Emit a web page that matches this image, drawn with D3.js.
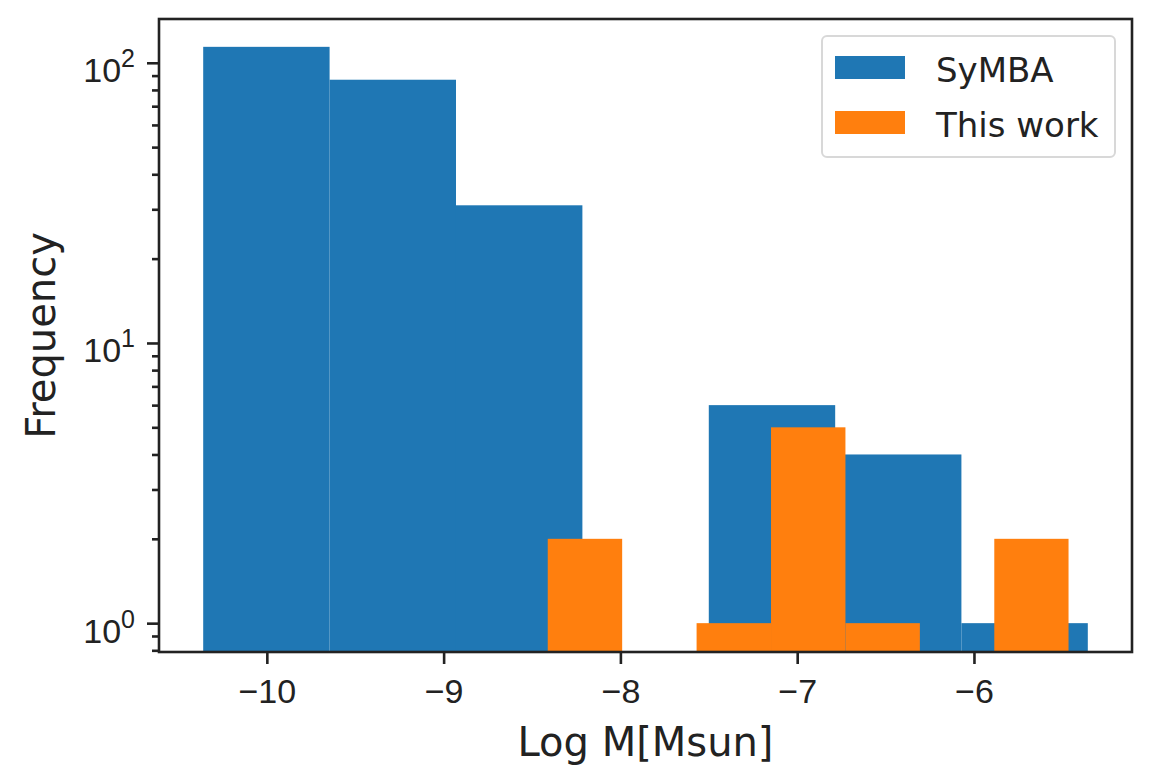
<!DOCTYPE html>
<html>
<head>
<meta charset="utf-8">
<script src="https://cdn.jsdelivr.net/npm/d3@7"></script>
<style>
    body { margin: 0; background: #fff; }
    svg { display: block; font-family: "DejaVu Sans", sans-serif; }
    .axis path { display: none; }
    .axis line { stroke: #222; stroke-width: 2.6; }
    .axis text { fill: #222; font-size: 34px; }
</style>
</head>
<body>
<svg id="chart"></svg>
<script>
// histogram bin edges (Log M) and counts
const binEdgesSymba = [-10.360, -9.645, -8.930, -8.215, -7.500, -6.785, -6.071, -5.356];
const countsSymba = [114, 87, 31, 0, 6, 4, 1];
const binEdgesThisWork = [-8.411, -7.990, -7.569, -7.148, -6.727, -6.306, -5.885, -5.465];
const countsThisWork = [2, 0, 1, 5, 1, 0, 2];

const seriesNames = ['SyMBA', 'This work'];
const seriesColors = ['#1f77b4', '#ff7f0e'];

const xTicks = [-10, -9, -8, -7, -6];
const yMajorTicks = [1, 10, 100];
const yExponents = ['0', '1', '2'];

class LogHistogram {

    constructor(_config, _data) {
        this.config = {
            parentElement: _config.parentElement,
            containerWidth: _config.containerWidth || 1153,
            containerHeight: _config.containerHeight || 782,
            margin: _config.margin || { top: 19, right: 21, bottom: 130, left: 159 }
        }
        this.data = _data;
        this.initVis();
    }

    initVis() {
        let vis = this;

        vis.width = vis.config.containerWidth - vis.config.margin.left - vis.config.margin.right;
        vis.height = vis.config.containerHeight - vis.config.margin.top - vis.config.margin.bottom;

        vis.xScale = d3.scaleLinear()
            .domain([-10.610, -5.106])
            .range([0, vis.width]);

        vis.yScale = d3.scaleLog()
            .domain([0.789, 143.3])
            .range([vis.height, 0]);

        vis.xAxis = d3.axisBottom(vis.xScale)
            .tickValues(xTicks)
            .tickSize(12)
            .tickSizeOuter(0)
            .tickPadding(15)
            .tickFormat(d3.format('d'));

        // minor ticks from the log scale itself, majors drawn separately
        vis.yMinorAxis = d3.axisLeft(vis.yScale)
            .tickValues(vis.yScale.ticks().filter(d => !yMajorTicks.includes(d)))
            .tickSize(7)
            .tickSizeOuter(0)
            .tickFormat('');

        vis.yAxis = d3.axisLeft(vis.yScale)
            .tickValues(yMajorTicks)
            .tickSize(12)
            .tickSizeOuter(0)
            .tickPadding(12)
            .tickFormat('');

        vis.svg = d3.select(vis.config.parentElement)
            .attr('width', vis.config.containerWidth)
            .attr('height', vis.config.containerHeight);

        vis.chart = vis.svg.append('g')
            .attr('transform', `translate(${vis.config.margin.left},${vis.config.margin.top})`);

        vis.chart.append('clipPath')
            .attr('id', 'plot-clip')
            .append('rect')
            .attr('width', vis.width)
            .attr('height', vis.height);

        vis.marks = vis.chart.append('g')
            .attr('clip-path', 'url(#plot-clip)');

        vis.xAxisG = vis.chart.append('g')
            .attr('class', 'axis x-axis')
            .attr('transform', `translate(0,${vis.height})`);

        vis.yMinorAxisG = vis.chart.append('g')
            .attr('class', 'axis y-axis-minor');

        vis.yAxisG = vis.chart.append('g')
            .attr('class', 'axis y-axis');

        // spines
        vis.chart.append('rect')
            .attr('width', vis.width)
            .attr('height', vis.height)
            .attr('fill', 'none')
            .attr('stroke', '#222')
            .attr('stroke-width', 2.6);

        vis.svg.append('text')
            .attr('text-anchor', 'middle')
            .attr('x', vis.config.margin.left + vis.width / 2)
            .attr('y', 756)
            .attr('font-size', 40)
            .attr('fill', '#222')
            .text('Log M[Msun]');

        vis.svg.append('text')
            .attr('text-anchor', 'middle')
            .attr('transform', 'rotate(-90)')
            .attr('y', 55)
            .attr('x', -(vis.config.margin.top + vis.height / 2))
            .attr('font-size', 40)
            .attr('fill', '#222')
            .text('Frequency');

        vis.legend = vis.svg.append('g')
            .attr('transform', 'translate(822,36)');
    }

    updateVis() {
        let vis = this;

        // flatten each series into bins {x0, x1, count}
        vis.bins = vis.data.map((s, i) => s.counts.map((c, j) => ({
            x0: s.edges[j],
            x1: s.edges[j + 1],
            count: c,
            color: seriesColors[i]
        })).filter(b => b.count > 0));

        vis.renderVis();
    }

    renderVis() {
        let vis = this;

        vis.marks.selectAll('.series')
            .data(vis.bins)
            .join('g')
            .attr('class', 'series')
          .selectAll('rect')
            .data(d => d)
            .join('rect')
            .attr('x', d => vis.xScale(d.x0))
            .attr('width', d => vis.xScale(d.x1) - vis.xScale(d.x0))
            .attr('y', d => vis.yScale(d.count))
            .attr('height', d => vis.height + 10 - vis.yScale(d.count))
            .attr('fill', d => d.color);

        vis.xAxisG.call(vis.xAxis);
        vis.yMinorAxisG.call(vis.yMinorAxis);
        vis.yAxisG.call(vis.yAxis);

        // 10^n labels
        vis.yAxisG.selectAll('.tick text')
            .attr('dy', null)
            .attr('y', 19)
            .each(function(d, i) {
                const t = d3.select(this);
                t.append('tspan').text('10');
                t.append('tspan')
                    .attr('font-size', 25)
                    .attr('dy', -15)
                    .text(yExponents[i]);
            });

        // legend
        vis.legend.append('rect')
            .attr('width', 293)
            .attr('height', 121)
            .attr('rx', 5)
            .attr('fill', '#fff')
            .attr('fill-opacity', 0.8)
            .attr('stroke', '#d8d8d8')
            .attr('stroke-width', 2);

        const items = vis.legend.selectAll('.legend-item')
            .data(seriesNames)
            .join('g')
            .attr('class', 'legend-item')
            .attr('transform', (d, i) => `translate(0,${i * 55})`);

        items.append('rect')
            .attr('x', 13)
            .attr('y', 20)
            .attr('width', 70)
            .attr('height', 23)
            .attr('fill', (d, i) => seriesColors[i]);

        items.append('text')
            .attr('x', 114)
            .attr('y', 46)
            .attr('font-size', 34)
            .attr('fill', '#222')
            .text(d => d);
    }
}

const chart = new LogHistogram({ parentElement: '#chart' }, [
    { edges: binEdgesSymba, counts: countsSymba },
    { edges: binEdgesThisWork, counts: countsThisWork }
]);
chart.updateVis();
</script>
</body>
</html>
